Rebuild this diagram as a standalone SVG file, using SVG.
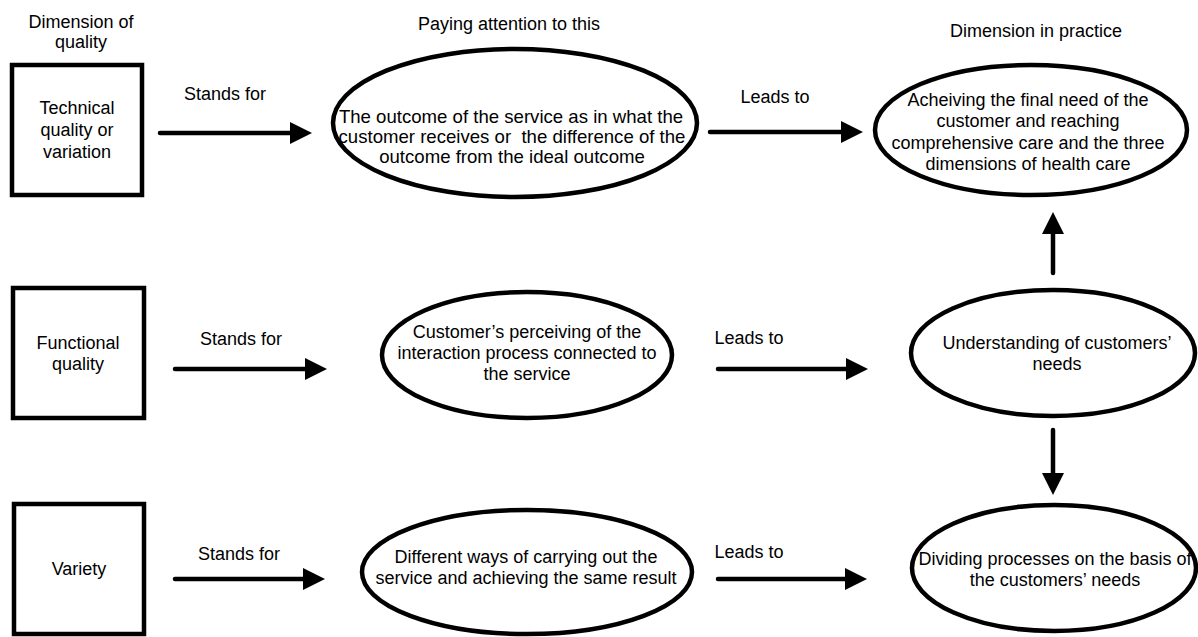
<svg xmlns="http://www.w3.org/2000/svg" width="1198" height="637" viewBox="0 0 1198 637">
<style>
text{font-family:"Liberation Sans",Arial,sans-serif;font-size:18px;fill:#000;text-anchor:middle}
.big{font-size:18.6px}
.box{fill:#fff;stroke:#000;stroke-width:4.5}
.ell{fill:#fff;stroke:#000;stroke-width:4.5}
.arr{fill:none;stroke:#000;stroke-width:4.5;stroke-linecap:round;marker-end:url(#ah)}
</style>
<defs>
<marker id="ah" viewBox="0 0 22 24" refX="1" refY="12" markerWidth="22" markerHeight="24" markerUnits="userSpaceOnUse" orient="auto">
<path d="M0,1 L22,12 L0,23 Z" fill="#000"/>
</marker>
</defs>
<rect width="1198" height="637" fill="#fff"/>
<g id="headers">
<text x="81" y="28">Dimension of</text>
<text x="81" y="48">quality</text>
<text x="509" y="30">Paying attention to this</text>
<text x="1036" y="37">Dimension in practice</text>
</g>
<g id="box-technical">
<rect class="box" x="12" y="65" width="130" height="130"/>
<text x="77" y="114">Technical</text>
<text x="77" y="136">quality or</text>
<text x="77" y="158">variation</text>
</g>
<g id="box-functional">
<rect class="box" x="13" y="288" width="131" height="130"/>
<text x="78" y="349">Functional</text>
<text x="78" y="370">quality</text>
</g>
<g id="box-variety">
<rect class="box" x="14" y="504" width="130" height="130"/>
<text x="79" y="575">Variety</text>
</g>
<g id="ell-outcome">
<ellipse class="ell" cx="515" cy="123" rx="182" ry="74"/>
<text class="big" x="511" y="123">The outcome of the service as in what the</text>
<text class="big" x="512" y="143" xml:space="preserve">customer receives or  the difference of the</text>
<text class="big" x="512" y="163">outcome from the ideal outcome</text>
</g>
<g id="ell-final">
<ellipse class="ell" cx="1031" cy="130" rx="156" ry="65"/>
<text x="1028" y="106">Acheiving the final need of the</text>
<text x="1028" y="127">customer and reaching</text>
<text x="1028" y="149">comprehensive care and the three</text>
<text x="1028" y="170">dimensions of health care</text>
</g>
<g id="ell-perceiving">
<ellipse class="ell" cx="527" cy="355" rx="145" ry="63"/>
<text x="527" y="338">Customer’s perceiving of the</text>
<text x="527" y="359">interaction process connected to</text>
<text x="527" y="380">the service</text>
</g>
<g id="ell-understanding">
<ellipse class="ell" cx="1053" cy="353" rx="142" ry="63"/>
<text x="1057" y="349">Understanding of customers’</text>
<text x="1057" y="370">needs</text>
</g>
<g id="ell-different">
<ellipse class="ell" cx="527" cy="572" rx="165" ry="62"/>
<text x="526" y="563">Different ways of carrying out the</text>
<text x="526" y="584">service and achieving the same result</text>
</g>
<g id="ell-dividing">
<ellipse class="ell" cx="1054" cy="568" rx="142" ry="63"/>
<text x="1055" y="565">Dividing processes on the basis of</text>
<text x="1055" y="586">the customers’ needs</text>
</g>
<g id="connectors">
<path class="arr" d="M160,133 H291"/>
<path class="arr" d="M175,369 H306"/>
<path class="arr" d="M175,579 H304"/>
<path class="arr" d="M710,132 H842"/>
<path class="arr" d="M718,369 H847"/>
<path class="arr" d="M718,579 H846"/>
<path class="arr" d="M1053,273 V233"/>
<path class="arr" d="M1053,430 V474"/>
<text x="225" y="100">Stands for</text>
<text x="241" y="345">Stands for</text>
<text x="239" y="560">Stands for</text>
<text x="775" y="103">Leads to</text>
<text x="749" y="344">Leads to</text>
<text x="749" y="558">Leads to</text>
</g>
</svg>
